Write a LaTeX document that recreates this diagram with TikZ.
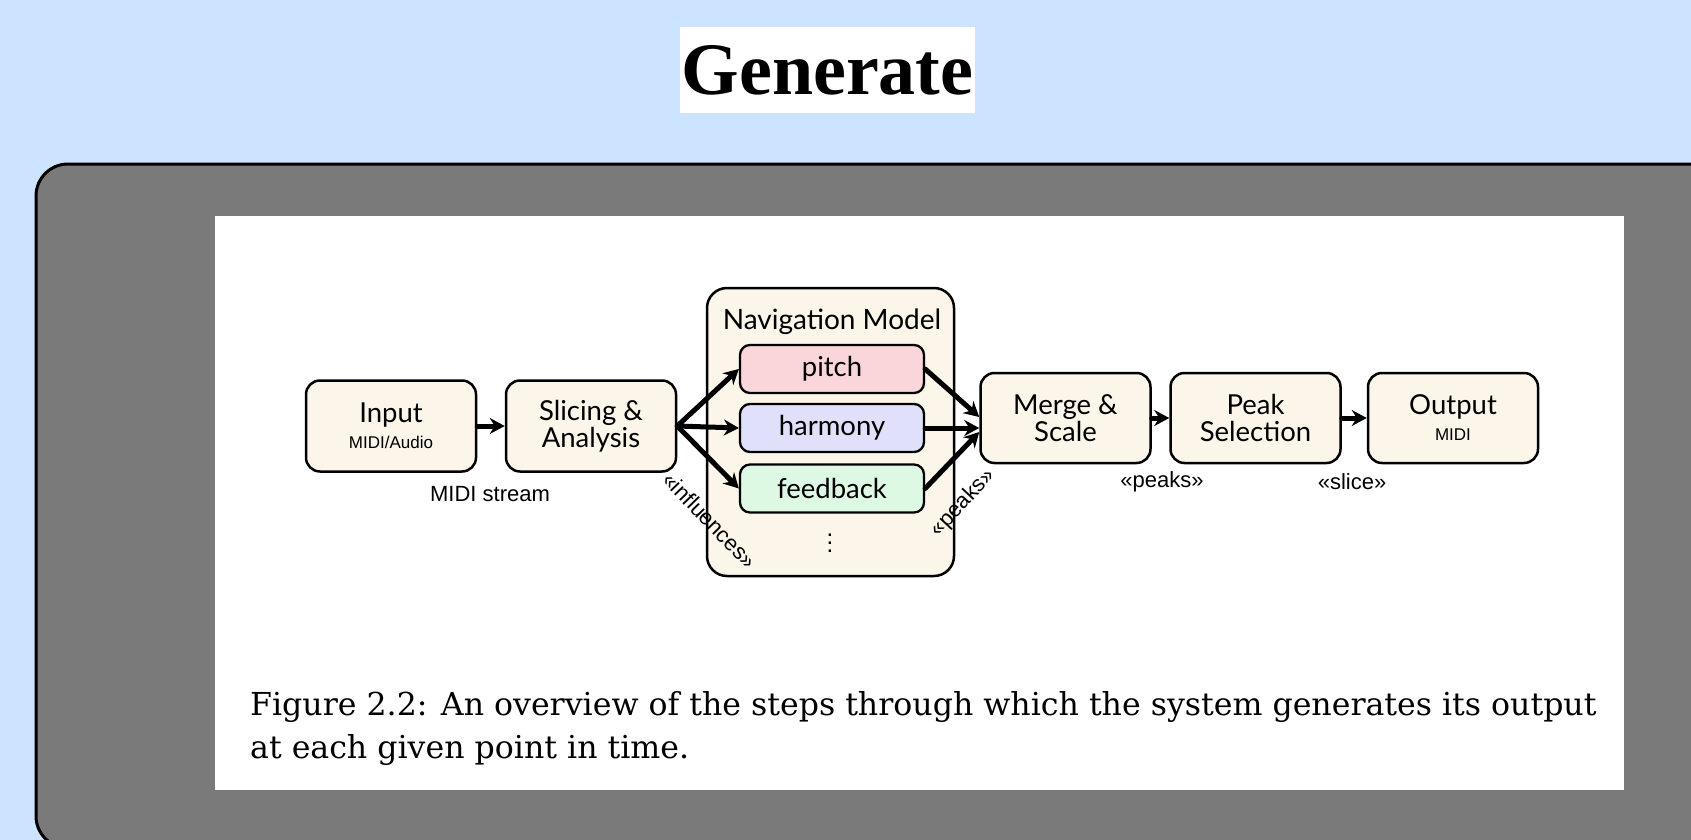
\documentclass[tikz,border=0pt]{standalone}
\usepackage{fontspec}
\setmainfont{DejaVu Serif}
\newfontfamily\titlefont{Liberation Serif}
\newfontfamily\boxfont{Lato}
\newfontfamily\lblfont{Liberation Sans}
\usetikzlibrary{arrows.meta}
\definecolor{bgblue}{HTML}{CCE4FF}
\definecolor{panelgray}{HTML}{7A7A7A}
\definecolor{cream}{HTML}{FBF5EA}
\definecolor{pitchfill}{HTML}{FAD5D9}
\definecolor{harmfill}{HTML}{E0E0FA}
\definecolor{feedfill}{HTML}{DDF8E3}
\tikzset{
  stepbox/.style={draw, line width=2.5pt, rounded corners=14pt, fill=cream,
    minimum width=170pt, minimum height=91pt, inner sep=0pt, align=center,
    font=\boxfont\fontsize{27.5}{27}\selectfont},
  subbox/.style={draw, line width=2.3pt, rounded corners=10pt,
    minimum width=184pt, minimum height=48pt, inner sep=0pt,
    font=\boxfont\fontsize{27.5}{27}\selectfont},
  arr/.style={line width=5pt, line cap=round, -{Stealth[length=15pt,width=16pt,inset=5pt]}},
  lbl/.style={font=\lblfont\fontsize{22}{22}\selectfont, inner sep=0pt}
}
\begin{document}
\begin{tikzpicture}[x=1pt,y=-1pt]
\useasboundingbox (0,0) rectangle (1691,840);
\fill[bgblue] (0,0) rectangle (1691,840);
\begin{scope}
\clip (0,0) rectangle (1691,840);
\draw[line width=3pt, fill=panelgray, rounded corners=32pt] (36,164) rectangle (1740,848);
\end{scope}
\fill[white] (215,216) rectangle (1624,790);
\node[fill=white, inner sep=0pt, minimum width=295pt, minimum height=86pt,
  font=\titlefont\bfseries\fontsize{74}{74}\selectfont] (title) at (827.5,70) {Generate};

% diagram
\node[stepbox] (input) at (391,426) {Input\\[-1pt]{\lblfont\fontsize{17}{17}\selectfont MIDI/Audio}};
\node[stepbox] (slice) at (591,426) {Slicing \&\\Analysis};
\node[draw, line width=2.5pt, rounded corners=20pt, fill=cream, minimum width=247pt,
  minimum height=288pt, inner sep=0pt] (nav) at (830.5,432) {};
\node[font=\boxfont\fontsize{28}{28}\selectfont, inner sep=0pt] (navtitle) at (832,322) {Navigation Model};
\node[subbox, fill=pitchfill] (pitch) at (832,369) {pitch};
\node[subbox, fill=harmfill] (harmony) at (832,428) {harmony};
\node[subbox, fill=feedfill] (feedback) at (832,488.5) {feedback};
\node[font=\lblfont\fontsize{24}{8}\selectfont, align=center, inner sep=0pt] (dots) at (830,543) {.\\.\\.};
\node[stepbox, minimum height=90pt] (merge) at (1065.5,418) {Merge \&\\Scale};
\node[stepbox, minimum height=90pt] (peak) at (1255.5,418) {Peak\\Selection};
\node[stepbox, minimum height=90pt] (output) at (1453,418) {Output\\[-1pt]{\lblfont\fontsize{17}{17}\selectfont MIDI}};

% connectors
\draw[arr] (input.east) -- (slice.west);
\draw[arr] (slice.east) -- (pitch.west);
\draw[arr] (slice.east) -- (harmony.west);
\draw[arr] (slice.east) -- (feedback.west);
\draw[arr] (pitch.east) -- ([yshift=1pt]merge.west);
\draw[arr] (harmony.east) -- (merge.west |- harmony.east);
\draw[arr] (feedback.east) -- ([yshift=-14pt]merge.west);
\draw[arr] (merge.east) -- (peak.west);
\draw[arr] (peak.east) -- (output.west);

% labels
\node[lbl] (midistream) at (490,494) {MIDI stream};
\node[lbl, rotate=-46] (influences) at (710,520) {«influences»};
\node[lbl, rotate=47] (peaksrot) at (963,503) {«peaks»};
\node[lbl] (peakslbl) at (1162,482) {«peaks»};
\node[lbl] (slicelbl) at (1352,482) {«slice»};

% caption
\node[anchor=base west, align=left, inner sep=0pt, font=\fontsize{31.6}{43}\selectfont] (caption) at (250,758)
  {Figure 2.2: An overview of the steps through which the system generates its output\\at each given point in time.};
\end{tikzpicture}
\end{document}
